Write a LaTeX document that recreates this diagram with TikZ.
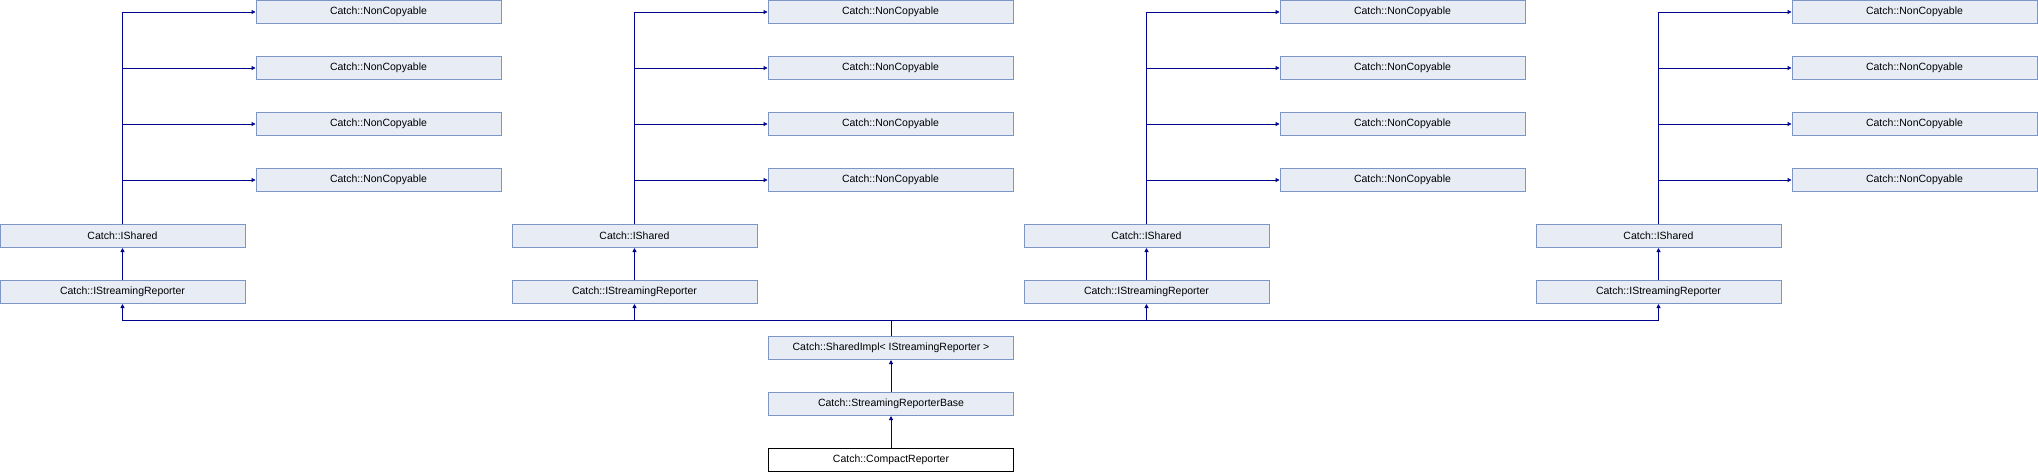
\documentclass[tikz,border=0pt]{standalone}
\usepackage{fontspec}
\setmainfont{Liberation Sans}
\usetikzlibrary{arrows.meta}
\definecolor{edgeblue}{RGB}{0,0,140}
\definecolor{boxfill}{RGB}{232,236,244}
\definecolor{boxline}{RGB}{124,150,200}
\begin{document}
\begin{tikzpicture}[x=1pt, y=-1pt,
    cls/.style={draw=boxline, fill=boxfill, line width=1pt, minimum width=245pt, minimum height=23pt, inner sep=0pt, font=\fontsize{10.5}{12}\selectfont},
    leaf/.style={cls, draw=black, fill=white},
    inh/.style={edgeblue, line width=1pt, -{Triangle[length=4pt,width=4pt]}}]
    \fill[white] (0,0) rectangle (2038,472);
    \useasboundingbox (0,0) rectangle (2038,472);
    % one interface stack per column
    \foreach \c in {0,...,3} {
        \node[cls] (shared\c) at (512*\c+122.5,236) {Catch::IShared};
        \node[cls] (rep\c) at (512*\c+122.5,292) {Catch::IStreamingReporter};
        \foreach \r in {1,...,4} {
            \node[cls] (nc\c\r) at (512*\c+378.5,56*\r-44) {Catch::NonCopyable};
            \draw[inh] (shared\c.north) -- (shared\c.north |- nc\c\r.west) -- (nc\c\r.west);
        }
        \draw[inh] (rep\c.north) -- (shared\c.south);
    }
    \node[cls] (impl) at (891,348) {Catch::SharedImpl< IStreamingReporter >};
    \node[cls] (base) at (891,404) {Catch::StreamingReporterBase};
    \node[leaf] (compact) at (891,460) {Catch::CompactReporter};
    \coordinate (bus) at (891,320);
    \foreach \c in {0,...,3} \draw[inh] (impl.north) -- (bus) -| (rep\c.south);
    \draw[inh] (base.north) -- (impl.south);
    \draw[inh] (compact.north) -- (base.south);
\end{tikzpicture}
\end{document}
